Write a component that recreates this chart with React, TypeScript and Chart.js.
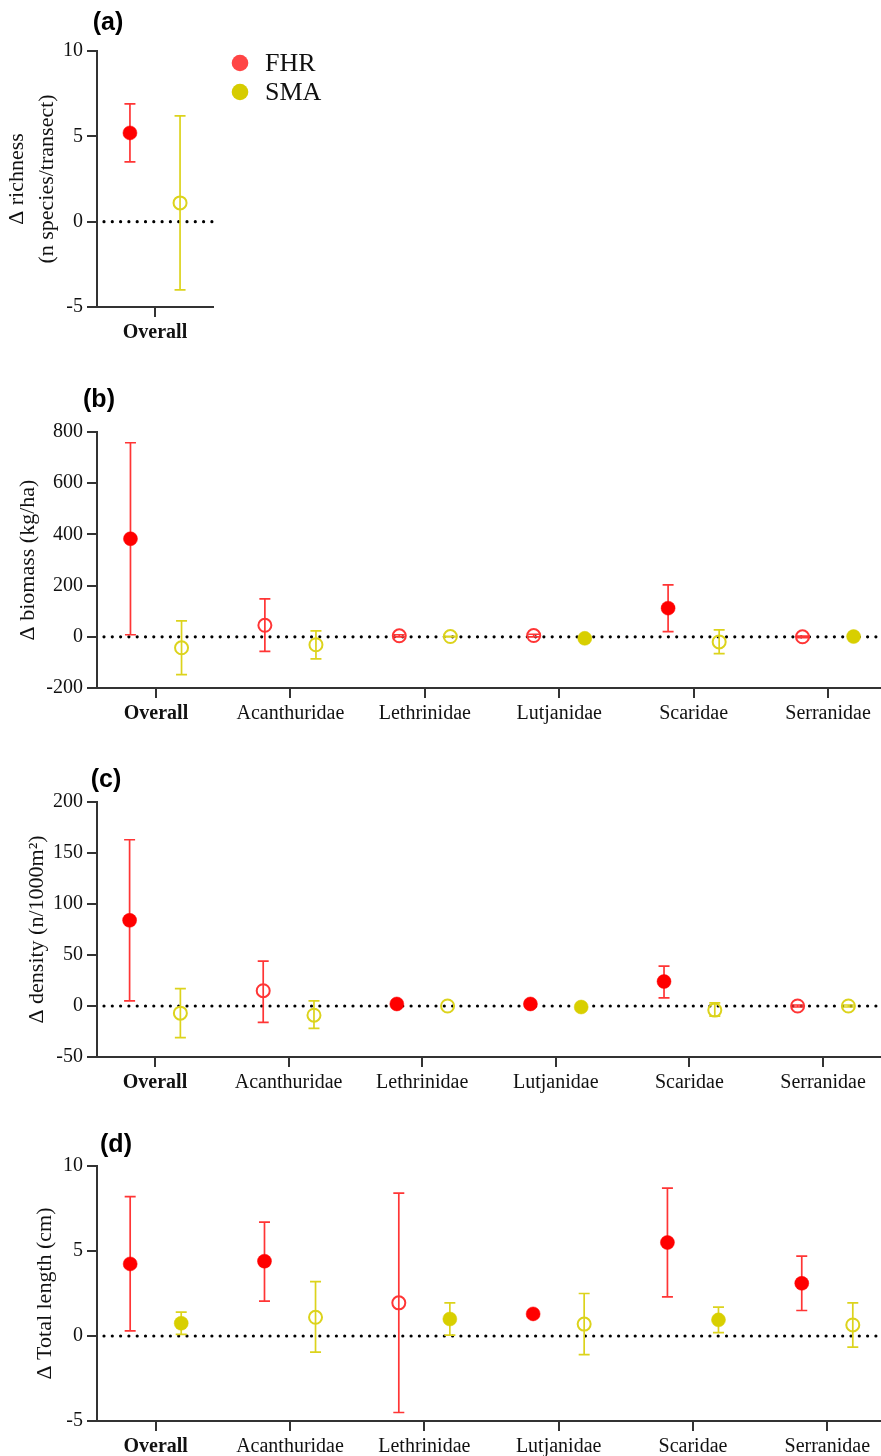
import React, { useEffect, useRef } from 'react';
import { Chart, registerables } from 'chart.js';

Chart.register(...registerables);

// ---------- data ----------
const categories = ['Overall', 'Acanthuridae', 'Lethrinidae', 'Lutjanidae', 'Scaridae', 'Serranidae'];
const richnessCategories = ['Overall'];

const legendLabels = ['FHR', 'SMA'];

// (a) richness
const richFHR = [5.2];
const richFHRLow = [3.5];
const richFHRHigh = [6.9];
const richFHRFilled = [true];
const richSMA = [1.1];
const richSMALow = [-4.0];
const richSMAHigh = [6.2];
const richSMAFilled = [false];
const richTicks = { min: -5, max: 10, step: 5 };

// (b) biomass
const bioFHR = [383, 45, 4, 5, 112, 0];
const bioFHRLow = [8, -57, 0, 0, 20, -3];
const bioFHRHigh = [758, 148, 8, 10, 203, 3];
const bioFHRFilled = [true, false, false, false, true, false];
const bioSMA = [-43, -31, 1, -6, -20, 1];
const bioSMALow = [-148, -86, 0, -6, -66, 1];
const bioSMAHigh = [62, 23, 2, -6, 27, 1];
const bioSMAFilled = [false, false, false, true, false, true];
const bioTicks = { min: -200, max: 800, step: 200 };

// (c) density
const denFHR = [84, 15, 2, 2, 24, 0];
const denFHRLow = [5, -16, 2, 2, 8, -1];
const denFHRHigh = [163, 44, 2, 2, 39, 1];
const denFHRFilled = [true, false, true, true, true, false];
const denSMA = [-7, -9, 0, -1, -4, 0];
const denSMALow = [-31, -22, 0, -1, -10, -1];
const denSMAHigh = [17, 5, 0, -1, 3, 1];
const denSMAFilled = [false, false, false, true, false, false];
const denTicks = { min: -50, max: 200, step: 50 };

// (d) total length
const lenFHR = [4.24, 4.4, 1.95, 1.3, 5.5, 3.1];
const lenFHRLow = [0.3, 2.05, -4.5, 1.3, 2.3, 1.5];
const lenFHRHigh = [8.2, 6.7, 8.4, 1.3, 8.7, 4.7];
const lenFHRFilled = [true, true, false, true, true, true];
const lenSMA = [0.75, 1.1, 1.0, 0.7, 0.95, 0.65];
const lenSMALow = [0.1, -0.95, 0.05, -1.1, 0.2, -0.65];
const lenSMAHigh = [1.4, 3.2, 1.95, 2.5, 1.7, 1.95];
const lenSMAFilled = [true, false, true, false, true, false];
const lenTicks = { min: -5, max: 10, step: 5 };

// ---------- styles ----------
const FHR_POINT = '#ff0000';
const FHR_LINE = '#ff3535';
const SMA_POINT = '#d8cf00';
const SMA_LINE = '#dcd31c';
const LEGEND_FHR = '#ff4545';
const LEGEND_SMA = '#d6cc00';
const AXIS = '#333333';
const SERIF = '"Liberation Serif", "Times New Roman", serif';
const SANS = '"Liberation Sans", Arial, sans-serif';

type Series = {
  values: number[];
  low: number[];
  high: number[];
  filled: boolean[];
  point: string;
  line: string;
};

type Panel = {
  top: number;
  height: number;
  areaTop: number;
  areaBottom: number;
  areaRight: number;
  xMin: number;
  xMax: number;
  offset: number;
  cats: string[];
  y: { min: number; max: number; step: number };
  title: string | string[];
  titlePad: number;
  label: string;
  labelX: number;
  labelY: number;
  series: Series[];
  legend?: boolean;
};

const mk = (values: number[], low: number[], high: number[], filled: boolean[], fhr: boolean): Series => ({
  values,
  low,
  high,
  filled,
  point: fhr ? FHR_POINT : SMA_POINT,
  line: fhr ? FHR_LINE : SMA_LINE,
});

const panels: Panel[] = [
  {
    top: 0, height: 350, areaTop: 51, areaBottom: 307, areaRight: 213,
    xMin: -0.5, xMax: 0.5, offset: 0.216, cats: richnessCategories,
    y: richTicks, title: ['\u0394 richness', '(n species/transect)'], titlePad: 2,
    label: '(a)', labelX: 108, labelY: 23,
    series: [
      mk(richFHR, richFHRLow, richFHRHigh, richFHRFilled, true),
      mk(richSMA, richSMALow, richSMAHigh, richSMAFilled, false),
    ],
    legend: true,
  },
  {
    top: 380, height: 350, areaTop: 52, areaBottom: 308, areaRight: 881,
    xMin: -0.439, xMax: 5.394, offset: 0.19, cats: categories,
    y: bioTicks, title: '\u0394 biomass (kg/ha)', titlePad: 13,
    label: '(b)', labelX: 99, labelY: 20,
    series: [
      mk(bioFHR, bioFHRLow, bioFHRHigh, bioFHRFilled, true),
      mk(bioSMA, bioSMALow, bioSMAHigh, bioSMAFilled, false),
    ],
  },
  {
    top: 760, height: 340, areaTop: 42, areaBottom: 297, areaRight: 881,
    xMin: -0.434, xMax: 5.434, offset: 0.19, cats: categories,
    y: denTicks, title: '\u0394 density (n/1000m\u00B2)', titlePad: 22,
    label: '(c)', labelX: 106, labelY: 20,
    series: [
      mk(denFHR, denFHRLow, denFHRHigh, denFHRFilled, true),
      mk(denSMA, denSMALow, denSMAHigh, denSMAFilled, false),
    ],
  },
  {
    top: 1120, height: 336, areaTop: 46, areaBottom: 301, areaRight: 881,
    xMin: -0.437, xMax: 5.4, offset: 0.19, cats: categories,
    y: lenTicks, title: '\u0394 Total length (cm)', titlePad: 30,
    label: '(d)', labelX: 116, labelY: 25,
    series: [
      mk(lenFHR, lenFHRLow, lenFHRHigh, lenFHRFilled, true),
      mk(lenSMA, lenSMALow, lenSMAHigh, lenSMAFilled, false),
    ],
  },
];

function PanelChart({ p }: { p: Panel }) {
  const ref = useRef<HTMLCanvasElement | null>(null);

  useEffect(() => {
    if (!ref.current) return;
    const offsets = [-p.offset, p.offset];

    const datasets = p.series.map((s, si) => ({
      label: legendLabels[si],
      data: s.values.map((v, i) => ({ x: i + offsets[si], y: v })),
      pointRadius: s.filled.map((f) => (f ? 7 : 6.5)),
      pointHoverRadius: 7,
      pointStyle: 'circle',
      pointBackgroundColor: s.filled.map((f) => (f ? s.point : 'rgba(0,0,0,0)')),
      pointBorderColor: s.filled.map((f) => (f ? s.point : s.line)),
      pointBorderWidth: s.filled.map((f) => (f ? 0.5 : 2)),
      showLine: false,
      clip: false as any,
    }));

    const extras = {
      id: 'extras',
      beforeDatasetsDraw(chart: any) {
        const { ctx, chartArea } = chart;
        const xs = chart.scales.x;
        const ys = chart.scales.y;
        // dotted zero line
        const y0 = ys.getPixelForValue(0);
        ctx.save();
        ctx.strokeStyle = '#000';
        ctx.lineWidth = 3.2;
        ctx.lineCap = 'round';
        ctx.setLineDash([0, 8.3]);
        ctx.beginPath();
        ctx.moveTo(chartArea.left + 7, y0);
        ctx.lineTo(chartArea.right, y0);
        ctx.stroke();
        ctx.restore();
        // error bars
        p.series.forEach((s, si) => {
          ctx.save();
          ctx.strokeStyle = s.line;
          ctx.lineWidth = 1.7;
          s.values.forEach((_, i) => {
            if (s.low[i] === s.high[i]) return;
            const x = xs.getPixelForValue(i + offsets[si]);
            const yl = ys.getPixelForValue(s.low[i]);
            const yh = ys.getPixelForValue(s.high[i]);
            ctx.beginPath();
            ctx.moveTo(x, yl);
            ctx.lineTo(x, yh);
            ctx.moveTo(x - 5.5, yl);
            ctx.lineTo(x + 5.5, yl);
            ctx.moveTo(x - 5.5, yh);
            ctx.lineTo(x + 5.5, yh);
            ctx.stroke();
          });
          ctx.restore();
        });
      },
      afterDraw(chart: any) {
        const { ctx } = chart;
        ctx.save();
        ctx.fillStyle = '#000';
        ctx.font = `bold 25px ${SANS}`;
        ctx.textAlign = 'center';
        ctx.textBaseline = 'middle';
        ctx.fillText(p.label, p.labelX, p.labelY);
        if (p.legend) {
          const items = [
            { t: legendLabels[0], c: LEGEND_FHR, y: 63 },
            { t: legendLabels[1], c: LEGEND_SMA, y: 92 },
          ];
          items.forEach((it) => {
            ctx.beginPath();
            ctx.fillStyle = it.c;
            ctx.arc(240, it.y, 8.3, 0, Math.PI * 2);
            ctx.fill();
            ctx.fillStyle = '#111';
            ctx.font = `26px ${SERIF}`;
            ctx.textAlign = 'left';
            ctx.textBaseline = 'middle';
            ctx.fillText(it.t, 265, it.y + 1);
          });
        }
        ctx.restore();
      },
    };

    const chart = new Chart(ref.current, {
      type: 'scatter',
      data: { datasets: datasets as any },
      plugins: [extras],
      options: {
        animation: false,
        responsive: false,
        devicePixelRatio: 1,
        layout: {
          autoPadding: false,
          padding: { top: p.areaTop, left: 0, right: 881 - p.areaRight, bottom: 0 },
        },
        plugins: {
          legend: { display: false },
          tooltip: { enabled: false },
          title: { display: false },
        },
        scales: {
          x: {
            type: 'linear',
            min: p.xMin,
            max: p.xMax,
            afterBuildTicks: (s: any) => {
              s.ticks = p.cats.map((_, i) => ({ value: i }));
            },
            afterFit: (s: any) => {
              s.height = p.height - p.areaBottom;
            },
            ticks: {
              autoSkip: false,
              maxRotation: 0,
              minRotation: 0,
              padding: 4,
              color: '#111',
              callback: (v: any) => p.cats[Math.round(Number(v))] ?? '',
              font: (c: any) => ({
                family: SERIF,
                size: 20,
                weight: c.index === 0 ? 'bold' : 'normal',
              }),
            },
            grid: {
              drawOnChartArea: false,
              drawTicks: true,
              tickLength: 10,
              color: AXIS,
              lineWidth: 2,
            },
            border: { color: AXIS, width: 2 },
          },
          y: {
            type: 'linear',
            min: p.y.min,
            max: p.y.max,
            afterFit: (s: any) => {
              s.width = 97;
            },
            ticks: {
              stepSize: p.y.step,
              padding: 4,
              color: '#111',
              font: { family: SERIF, size: 20 },
            },
            grid: {
              drawOnChartArea: false,
              drawTicks: true,
              tickLength: 10,
              color: AXIS,
              lineWidth: 2,
            },
            border: { color: AXIS, width: 2 },
            title: {
              display: true,
              text: p.title,
              color: '#111',
              font: { family: SERIF, size: 22, lineHeight: 30 / 22 },
              padding: { top: p.titlePad, bottom: 0 },
            },
          },
        },
      } as any,
    });

    return () => chart.destroy();
  }, [p]);

  return (
    <canvas
      ref={ref}
      width={881}
      height={p.height}
      style={{ position: 'absolute', left: 0, top: p.top, width: 881, height: p.height, display: 'block' }}
    />
  );
}

export default function App() {
  return (
    <div
      style={{
        position: 'absolute',
        left: 0,
        top: 0,
        width: 881,
        height: 1456,
        background: '#ffffff',
        overflow: 'hidden',
      }}
    >
      {panels.map((p, i) => (
        <PanelChart key={i} p={p} />
      ))}
    </div>
  );
}
